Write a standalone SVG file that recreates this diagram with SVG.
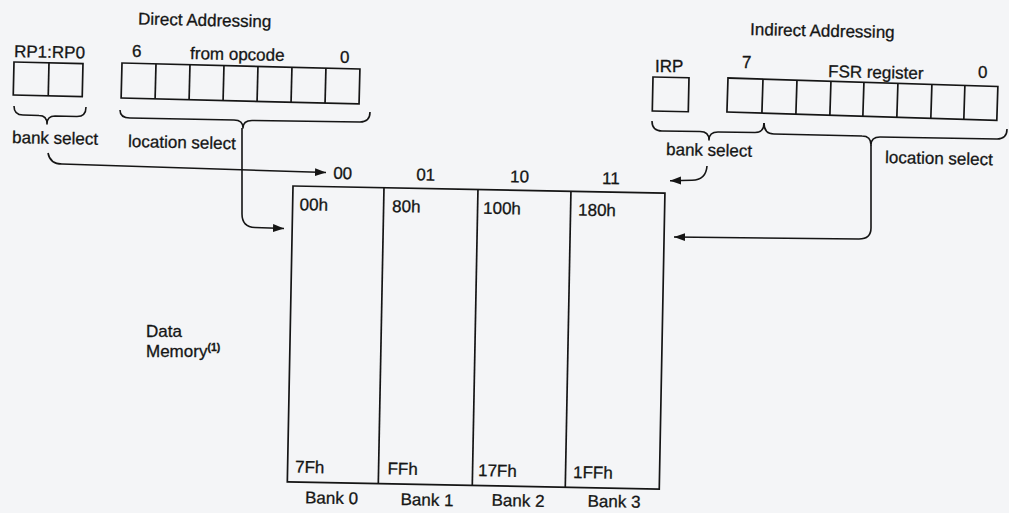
<svg xmlns="http://www.w3.org/2000/svg" width="1009" height="513" viewBox="0 0 1009 513">
<style>
  text { font-family: "Liberation Sans", Arial, sans-serif; font-size: 17px; fill: #151515; stroke: #151515; stroke-width: 0.3; }
  .sup { font-size: 10.5px; font-weight: bold; }
  .box { fill: none; stroke: #151515; stroke-width: 1.7; }
  .ln { fill: none; stroke: #151515; stroke-width: 1.6; }
  .br { fill: none; stroke: #151515; stroke-width: 1.6; stroke-linejoin: round; }
</style>
<defs>
  <marker id="ah" markerWidth="12" markerHeight="9" refX="11" refY="4.5" orient="auto" markerUnits="userSpaceOnUse">
    <path d="M0,0.5 L11,4.5 L0,8.5 Z" fill="#151515"/>
  </marker>
</defs>
<rect width="1009" height="513" fill="#f4f5f7"/>

<g id="direct-title">
  <text x="138" y="24.5" transform="rotate(1.2 138 24.5)">Direct Addressing</text>
</g>

<g id="rp-register">
  <text x="14" y="57" transform="rotate(1.2 14 57)">RP1:RP0</text>
  <g transform="rotate(1.3 14 62)">
    <rect class="box" x="14" y="62" width="69" height="33"/>
    <line class="box" x1="49" y1="62" x2="49" y2="95"/>
  </g>
  <path class="br" d="M14,106 Q14,115 23,115 L39,115.5 Q47,115.5 47,124 Q47,116 55,116 L77,116.5 Q86,116.5 86,107"/>
  <text x="12" y="143" transform="rotate(1.2 12 143)">bank select</text>
</g>

<g id="opcode-register">
  <text x="132" y="57">6</text>
  <text x="190" y="59" transform="rotate(1.2 190 59)">from opcode</text>
  <text x="340" y="63">0</text>
  <g transform="rotate(1.44 122 63)">
    <rect class="box" x="122" y="63" width="238" height="35"/>
    <line class="box" x1="156" y1="63" x2="156" y2="98"/>
    <line class="box" x1="190" y1="63" x2="190" y2="98"/>
    <line class="box" x1="224" y1="63" x2="224" y2="98"/>
    <line class="box" x1="258" y1="63" x2="258" y2="98"/>
    <line class="box" x1="292" y1="63" x2="292" y2="98"/>
    <line class="box" x1="326" y1="63" x2="326" y2="98"/>
  </g>
  <path class="br" d="M120,110 Q120,118 130,118 L234,120 Q243,120 243,128 Q243,120.5 252,120.5 L360,122 Q370,122 370,112"/>
  <text x="128" y="147" transform="rotate(1.2 128 147)">location select</text>
</g>

<g id="indirect-title">
  <text x="750" y="35" transform="rotate(1.2 750 35)">Indirect Addressing</text>
</g>

<g id="irp-register">
  <text x="655" y="72">IRP</text>
  <g transform="rotate(1.2 653 77)">
    <rect class="box" x="653" y="77" width="36" height="34"/>
  </g>
  <path class="br" d="M652,121 Q652,131 662,131 L700,131.5 Q709,131.5 709,140 Q709,132 718,132 L755,132.5 Q764,132.5 764,123"/>
  <text x="666" y="155" transform="rotate(1.2 666 155)">bank select</text>
</g>

<g id="fsr-register">
  <text x="742" y="68">7</text>
  <text x="828" y="77" transform="rotate(1.2 828 77)">FSR register</text>
  <text x="978" y="78">0</text>
  <g transform="rotate(1.8 728 78)">
    <rect class="box" x="728" y="78" width="270" height="34"/>
    <line class="box" x1="763" y1="78" x2="763" y2="112"/>
    <line class="box" x1="797" y1="78" x2="797" y2="112"/>
    <line class="box" x1="831" y1="78" x2="831" y2="112"/>
    <line class="box" x1="864" y1="78" x2="864" y2="112"/>
    <line class="box" x1="898" y1="78" x2="898" y2="112"/>
    <line class="box" x1="932" y1="78" x2="932" y2="112"/>
    <line class="box" x1="965" y1="78" x2="965" y2="112"/>
  </g>
  <path class="br" d="M764,123 Q764,134 774,134 L862,136 Q871,136 871,145 Q871,137 880,137 L997,139 Q1007,139 1007,129"/>
  <text x="885" y="163" transform="rotate(1.2 885 163)">location select</text>
</g>

<g id="data-memory-label">
  <text x="146" y="337">Data</text>
  <text x="146" y="357">Memory<tspan class="sup" dy="-6">(1)</tspan></text>
</g>

<g id="data-memory" transform="rotate(1.1 293 186)">
  <rect class="box" x="293" y="186" width="372" height="296"/>
  <line class="box" x1="384" y1="186" x2="384" y2="482"/>
  <line class="box" x1="478" y1="186" x2="478" y2="482"/>
  <line class="box" x1="571" y1="186" x2="571" y2="482"/>
  <text x="333" y="178">00</text>
  <text x="416" y="178">01</text>
  <text x="510" y="178">10</text>
  <text x="602" y="178">11</text>
  <text x="300" y="210">00h</text>
  <text x="392.5" y="210">80h</text>
  <text x="483.5" y="210">100h</text>
  <text x="578.5" y="210">180h</text>
  <text x="300.5" y="472.5">7Fh</text>
  <text x="393" y="472.5">FFh</text>
  <text x="483.5" y="472.5">17Fh</text>
  <text x="578.5" y="472.5">1FFh</text>
  <text x="337.5" y="503" text-anchor="middle">Bank 0</text>
  <text x="433" y="503" text-anchor="middle">Bank 1</text>
  <text x="524" y="502" text-anchor="middle">Bank 2</text>
  <text x="620" y="501" text-anchor="middle">Bank 3</text>
</g>

<g id="connectors">
  <path class="ln" d="M48,153 Q50,164 62,164 L326,172.5" marker-end="url(#ah)"/>
  <path class="ln" d="M242,128 L242,214 Q242,227 255,227.5 L284,228.5" marker-end="url(#ah)"/>
  <path class="ln" d="M707,166 Q706,180 692,180.3 L670,180.8" marker-end="url(#ah)"/>
  <path class="ln" d="M871,145 L871,228 Q871,239 859,239 L674,237" marker-end="url(#ah)"/>
</g>
</svg>
